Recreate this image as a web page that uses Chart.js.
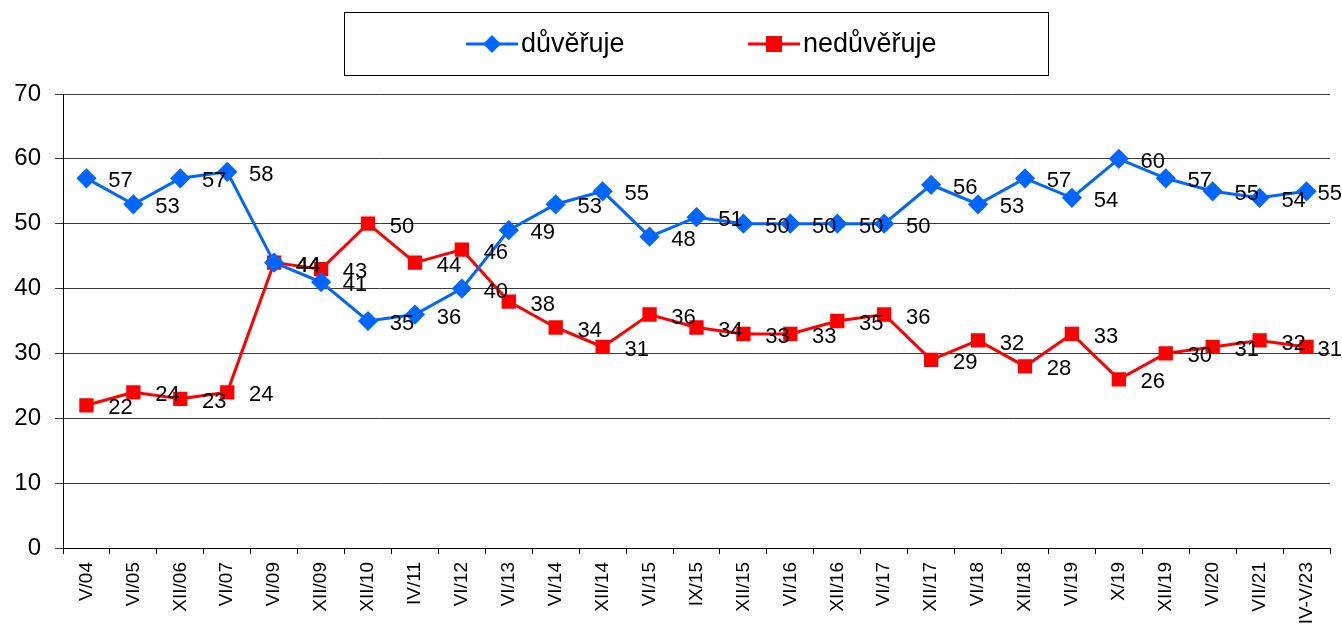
<!DOCTYPE html>
<html>
<head>
<meta charset="utf-8">
<script src="https://cdn.jsdelivr.net/npm/chart.js@4"></script>
<style>
html,body{margin:0;padding:0;background:#fff;}
#wrap{position:relative;width:1342px;height:630px;}
</style>
</head>
<body>
<div id="wrap"><canvas id="c" width="1342" height="630"></canvas></div>
<script>
const categories = ["V/04","VI/05","XII/06","VI/07","VI/09","XII/09","XII/10","IV/11","VI/12","VI/13","VI/14","XII/14","VI/15","IX/15","XII/15","VI/16","XII/16","VI/17","XII/17","VI/18","XII/18","VI/19","X/19","XII/19","VI/20","VII/21","IV-V/23"];
const duveruje = [57,53,57,58,44,41,35,36,40,49,53,55,48,51,50,50,50,50,56,53,57,54,60,57,55,54,55];
const neduveruje = [22,24,23,24,44,43,50,44,46,38,34,31,36,34,33,33,35,36,29,32,28,33,26,30,31,32,31];
const seriesNames = ["důvěřuje","nedůvěřuje"];
const yTicks = [0,10,20,30,40,50,60,70];

const FONT = "Arial, 'Liberation Sans', sans-serif";

const labelPlugin = {
  id: 'pointLabels',
  afterDatasetsDraw(chart) {
    const ctx = chart.ctx;
    ctx.save();
    ctx.font = "22px " + FONT;
    ctx.fillStyle = "#000";
    ctx.textAlign = "center";
    ctx.textBaseline = "middle";
    chart.data.datasets.forEach((ds, di) => {
      const meta = chart.getDatasetMeta(di);
      meta.data.forEach((pt, i) => {
        const txt = String(ds.data[i]);
        const w = ctx.measureText(txt).width;
        let cx = pt.x + 34;
        if (cx + w / 2 > chart.width) cx = chart.width - w / 2;
        ctx.fillText(txt, cx, pt.y + 3);
      });
    });
    ctx.restore();
  }
};

const legendPlugin = {
  id: 'boxLegend',
  afterDraw(chart) {
    const ctx = chart.ctx;
    ctx.save();
    ctx.strokeStyle = "#000";
    ctx.lineWidth = 1;
    ctx.strokeRect(344.5, 12.5, 704, 63);
    const items = [{x: 466}, {x: 748}];
    chart.data.datasets.forEach((ds, di) => {
      const x0 = items[di].x, y = 44;
      ctx.strokeStyle = ds.borderColor;
      ctx.lineWidth = 3;
      ctx.beginPath(); ctx.moveTo(x0, y); ctx.lineTo(x0 + 52, y); ctx.stroke();
      ctx.fillStyle = ds.backgroundColor;
      const cx = x0 + 26;
      if (ds.pointStyle === 'rectRot') {
        ctx.beginPath();
        ctx.moveTo(cx, y - 9); ctx.lineTo(cx + 9, y); ctx.lineTo(cx, y + 9); ctx.lineTo(cx - 9, y); ctx.closePath(); ctx.fill();
      } else {
        ctx.fillRect(cx - 8, y - 8, 16, 16);
      }
      ctx.fillStyle = "#000";
      ctx.font = "27px " + FONT;
      ctx.textAlign = "left";
      ctx.textBaseline = "middle";
      ctx.fillText(ds.label, x0 + 55, y + 1);
    });
    ctx.restore();
  }
};

new Chart(document.getElementById('c'), {
  type: 'line',
  data: {
    labels: categories,
    datasets: [
      {label: seriesNames[0], data: duveruje, borderColor: '#0066ff', backgroundColor: '#0066ff', borderWidth: 3, pointStyle: 'rectRot', pointRadius: 8, pointHoverRadius: 8, tension: 0},
      {label: seriesNames[1], data: neduveruje, borderColor: '#ff0000', backgroundColor: '#ff0000', borderWidth: 3, pointStyle: 'rect', pointRadius: 8, pointHoverRadius: 8, tension: 0}
    ]
  },
  options: {
    responsive: false,
    animation: false,
    events: [],
    layout: {padding: {top: 94, right: 12, left: 0, bottom: 0}},
    plugins: {legend: {display: false}, tooltip: {enabled: false}},
    scales: {
      x: {
        offset: true,
        grid: {display: true, drawOnChartArea: false, drawTicks: true, offset: true, tickLength: 6, color: '#000'},
        border: {display: true, color: '#000', width: 1},
        ticks: {color: '#000', font: {size: 19, family: FONT}, minRotation: 90, maxRotation: 90, padding: 8, autoSkip: false},
        afterFit(s) { s.height = 82; }
      },
      y: {
        min: 0, max: 70,
        afterBuildTicks(s) { s.ticks = yTicks.map(v => ({value: v})); },
        grid: {color: '#3a3a3a', lineWidth: 1, tickLength: 8, drawTicks: true},
        border: {display: true, color: '#000', width: 1},
        ticks: {color: '#000', font: {size: 24, family: FONT}, padding: 14},
        afterFit(s) { s.width = 63; }
      }
    }
  },
  plugins: [labelPlugin, legendPlugin]
});
</script>
</body>
</html>
